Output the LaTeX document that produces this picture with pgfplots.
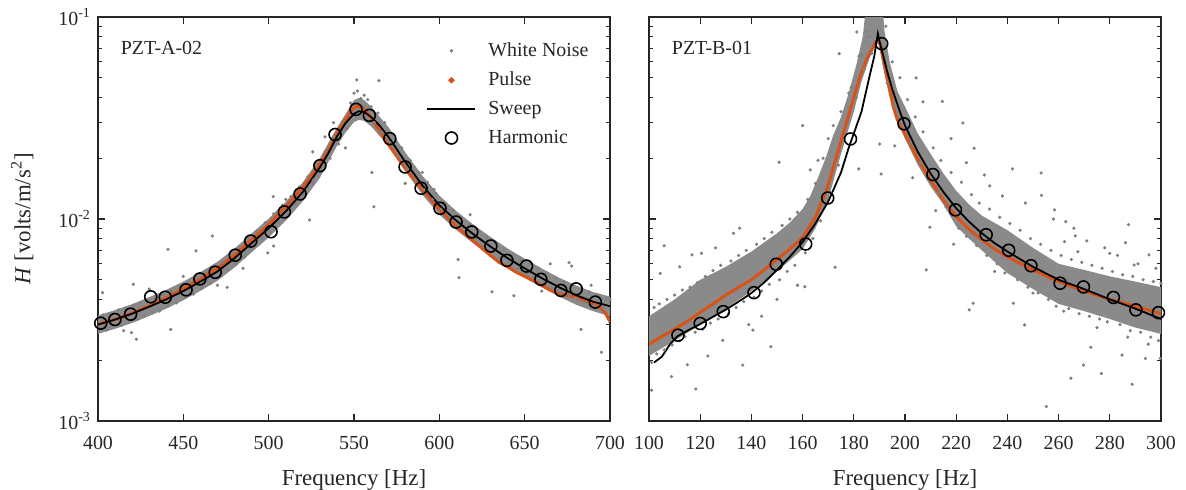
\documentclass[border=0pt]{standalone}
\usepackage{fontspec}
\setmainfont{Liberation Serif}
\usepackage{pgfplots}
\pgfplotsset{compat=1.18}
\definecolor{noise}{RGB}{128,128,128}
\definecolor{noisefill}{RGB}{138,138,138}
\definecolor{pulse}{RGB}{217,83,25}
\definecolor{axc}{RGB}{38,38,38}
\begin{document}
\begin{tikzpicture}
\useasboundingbox (0,0) rectangle (593bp,245bp);
% ================= LEFT PANEL =================
\begin{axis}[at={(49bp,34.5bp)}, anchor=south west,
  scale only axis, width=256bp, height=202bp,
  ymode=log, ymin=1e-3, ymax=1e-1,
  axis line style={axc, line width=0.8bp},
  major tick length=3.5bp, minor tick length=2bp,
  tick align=inside, tick style={axc, line width=0.6bp},
  tick label style={font=\fontsize{10}{12}\selectfont, text=black!85},
  xticklabel style={yshift=-4bp},
  xlabel style={font=\fontsize{11.5}{14}\selectfont, text=black!85, yshift=-3bp},
  /pgf/number format/assume math mode=true,
  ytick={0.001,0.01,0.1},
  xlabel={Frequency [Hz]},
  xmin=400, xmax=700, xtick={400,450,...,700},
  yticklabels={{10\textsuperscript{-3}},{10\textsuperscript{-2}},{10\textsuperscript{-1}}},
  ylabel={\textit{H} [volts/m/s\textsuperscript{2}]},
  ylabel style={font=\fontsize{11.5}{14}\selectfont, text=black!85, at={(axis description cs:-0.148,0.5)}, anchor=center},
  legend style={at={(0.641,0.948)}, anchor=north west, draw=none, fill=none,
    inner sep=0pt, row sep=2.3bp, font=\fontsize{10}{12}\selectfont, text=black!85,
    /tikz/every odd column/.append style={column sep=4bp}},
  legend cell align=left]
% dense band
\addplot[fill=noisefill, draw=none, forget plot] coordinates {
(400,0.00333)(410,0.00354)(420,0.00379)(430,0.00410)(440,0.00446)(450,0.0049)(460,0.00546)(470,0.00614)(480,0.00714)(490,0.00848)(500,0.01004)(510,0.01216)(520,0.01518)(530,0.0200)(540,0.0283)(545,0.0330)(550,0.0388)(553,0.0398)(556,0.0388)(560,0.0360)(570,0.0286)(580,0.0214)(590,0.0164)(600,0.01305)(610,0.01093)(620,0.00937)(630,0.00815)(640,0.00714)(650,0.00636)(660,0.00569)(670,0.00513)(680,0.00469)(690,0.00435)(700,0.00413)
(700,0.0033)(690,0.00350)(680,0.00377)(670,0.00414)(660,0.00459)(650,0.00513)(640,0.00576)(630,0.00657)(620,0.00756)(610,0.00882)(600,0.01053)(590,0.0132)(580,0.0173)(570,0.0230)(560,0.0288)(556,0.0306)(553,0.0310)(550,0.0302)(545,0.0268)(540,0.0230)(530,0.0160)(520,0.01224)(510,0.00981)(500,0.0081)(490,0.00684)(480,0.00576)(470,0.00495)(460,0.00441)(450,0.00396)(440,0.0036)(430,0.00331)(420,0.00306)(410,0.00286)(400,0.0027)
};
% white noise scatter
\addplot[only marks, mark=*, mark size=0.6bp, color=noise,
  legend image code/.code={\fill[noise] (12bp,0bp) circle (0.65bp);}] coordinates {
(401,0.00290)(403,0.00335)(405,0.00282)(407,0.00340)(409,0.00300)(412,0.00355)(414,0.00298)(416,0.00362)(418,0.00310)(421,0.00372)
(423,0.00318)(425,0.00385)(427,0.00330)(429,0.00395)(432,0.00345)(434,0.00410)(436,0.00350)(438,0.00425)(441,0.00370)(443,0.00440)
(446,0.00385)(448,0.00465)(451,0.00410)(453,0.00485)(456,0.00425)(458,0.00510)(461,0.00455)(463,0.00545)(466,0.00480)(468,0.00585)
(471,0.00520)(473,0.00610)(476,0.00560)(478,0.00670)(481,0.00600)(483,0.00730)(486,0.00650)(488,0.00800)(491,0.00720)(493,0.00870)
(496,0.00800)(498,0.00960)(501,0.00860)(503,0.01060)(506,0.00960)(508,0.01170)(511,0.01050)(513,0.01290)(516,0.01180)(518,0.01440)
(521,0.01310)(523,0.01620)(526,0.01500)(528,0.01880)(531,0.01720)(533,0.02150)(536,0.02000)(538,0.02550)(541,0.02350)(543,0.03000)
(546,0.02800)(548,0.03750)(550,0.04200)(552,0.04300)(554,0.03950)(556,0.04100)(558,0.03900)(560,0.03600)(562,0.03000)(564,0.03350)
(566,0.02700)(568,0.03000)(571,0.02400)(573,0.02600)(576,0.02050)(578,0.02250)(581,0.01780)(583,0.01950)(586,0.01560)(588,0.01700)
(591,0.01400)(593,0.01520)(596,0.01250)(598,0.01340)(601,0.01120)(603,0.01210)(606,0.01020)(608,0.01100)(611,0.00930)(613,0.01010)
(616,0.00860)(618,0.00940)(621,0.00800)(623,0.00870)(626,0.00740)(628,0.00810)(631,0.00690)(633,0.00760)(636,0.00650)(638,0.00710)
(641,0.00610)(643,0.00670)(646,0.00570)(648,0.00630)(651,0.00540)(653,0.00600)(656,0.00510)(658,0.00570)(661,0.00480)(663,0.00540)
(666,0.00455)(668,0.00510)(671,0.00435)(673,0.00490)(676,0.00415)(678,0.00470)(681,0.00400)(683,0.00450)(686,0.00385)(688,0.00435)
(691,0.00372)(693,0.00420)(696,0.00362)(698,0.00405)
(467,0.00824)(551.6,0.0488)(564.6,0.0484)(525.8,0.0215)(526,0.0156)(561.7,0.0115)(560.5,0.0170)(502.7,0.0129)(524,0.0099)
(441,0.00708)(442.6,0.00284)(422.5,0.00254)(419.6,0.00274)(420.7,0.00475)(402.7,0.00432)(457.4,0.00695)(475.7,0.00459)
(499.5,0.0068)(502.9,0.00735)(611,0.0063)(611.5,0.00513)(630.9,0.00436)(643.7,0.00417)(676,0.00608)(677.5,0.00585)
(683,0.00284)(695,0.00219)(538,0.0300)(545,0.0225)(533,0.0255)(580,0.0150)(590,0.0170)(618,0.0105)(597,0.0140)(665,0.0060)
(450,0.0052)(430,0.0045)(415,0.0028)(485,0.0057)(510,0.0125)(470,0.0047)(660,0.0044)(689,0.0047)(700,0.0040)
};
\addlegendentry{White Noise}
% pulse
\addplot[pulse, line width=1.5bp,
  legend image code/.code={\fill[pulse] (12bp,0bp) circle (0.6bp);}] coordinates {
(400,0.00302)(410,0.00318)(420,0.00342)(430,0.00372)(440,0.00408)(450,0.00452)(460,0.00505)(470,0.00570)(480,0.00665)(490,0.00790)
(500,0.00940)(510,0.01150)(520,0.01440)(530,0.01880)(535,0.02200)(540,0.02650)(545,0.03100)(549,0.03500)(552,0.03620)(555,0.03550)
(558,0.03350)(562,0.03000)(566,0.02650)(570,0.02350)(575,0.02050)(580,0.01780)(585,0.01580)(590,0.01400)(595,0.01250)(600,0.01120)
(605,0.01010)(610,0.00920)(615,0.00845)(620,0.00780)(625,0.00715)(630,0.00660)(635,0.00610)(640,0.00580)(645,0.00545)(650,0.00520)
(655,0.00495)(660,0.00470)(665,0.00445)(670,0.00428)(675,0.00418)(678,0.00412)(680,0.00422)(683,0.00402)(686,0.00392)(690,0.00382)
(694,0.00368)(697,0.00345)(700,0.00310)
};
\addlegendentry{Pulse}
% sweep
\addplot[black, line width=0.9bp,
  legend image code/.code={\draw[black, line width=0.9bp] (0bp,0bp) -- (24bp,0bp);}] coordinates {
(400,0.00300)(410,0.00318)(420,0.00340)(430,0.00368)(440,0.00400)(450,0.00440)(460,0.00490)(470,0.00550)(480,0.00640)(490,0.00760)
(500,0.00900)(510,0.01090)(520,0.01360)(530,0.01800)(535,0.02120)(540,0.02560)(545,0.02980)(550,0.03320)(553,0.03420)(556,0.03380)
(560,0.03200)(565,0.02900)(570,0.02560)(575,0.02220)(580,0.01920)(590,0.01470)(600,0.01170)(610,0.00980)(620,0.00840)(630,0.00730)
(640,0.00640)(650,0.00570)(660,0.00510)(670,0.00460)(680,0.00420)(690,0.00390)(700,0.00370)
};
\addlegendentry{Sweep}
% harmonic
\addplot[only marks, mark=o, mark size=3bp, black, mark options={line width=0.8bp},
  legend image code/.code={\draw[black, line width=0.8bp] (12bp,0bp) circle (3bp);}] coordinates {
(401.6,0.00305)(409.9,0.00318)(419.1,0.00338)(430.9,0.00412)(439.4,0.00410)(451.6,0.00446)(459.7,0.00505)(468.7,0.00545)
(480.4,0.00662)(489.5,0.00778)(501.4,0.00865)(509.2,0.01084)(518.4,0.0133)(530,0.01837)(538.9,0.0262)(551.2,0.0349)
(559,0.0326)(571,0.0250)(579.9,0.0181)(589.3,0.0142)(600.4,0.0113)(609.8,0.00966)(619,0.00863)(630.2,0.00735)
(639.6,0.00624)(651.1,0.00585)(659.5,0.00503)(671.2,0.00443)(680.2,0.00451)(691.4,0.00388)
};
\addlegendentry{Harmonic}
\node[anchor=west, font=\fontsize{10}{12}\selectfont, text=black!85] at (axis description cs:0.031,0.923) {PZT-A-02};
\end{axis}
% ================= RIGHT PANEL =================
\begin{axis}[at={(324.5bp,34.5bp)}, anchor=south west,
  scale only axis, width=256bp, height=202bp,
  ymode=log, ymin=1e-3, ymax=1e-1,
  axis line style={axc, line width=0.8bp},
  major tick length=3.5bp, minor tick length=2bp,
  tick align=inside, tick style={axc, line width=0.6bp},
  tick label style={font=\fontsize{10}{12}\selectfont, text=black!85},
  xticklabel style={yshift=-4bp},
  xlabel style={font=\fontsize{11.5}{14}\selectfont, text=black!85, yshift=-3bp},
  /pgf/number format/assume math mode=true,
  ytick={0.001,0.01,0.1},
  xlabel={Frequency [Hz]},
  xmin=100, xmax=300, xtick={100,120,...,300}, yticklabels={}]
\addplot[fill=noisefill, draw=none] coordinates {
(100,0.0033)(110,0.0040)(120,0.0050)(130,0.0058)(140,0.0069)(150,0.0085)(155,0.0096)(160,0.0112)(163,0.0130)(166,0.0160)(169,0.0200)(172,0.0260)(175,0.0320)(178,0.0420)(181,0.0580)(183.5,0.0800)(185,0.12)(191,0.12)(192,0.085)(194,0.060)(197,0.043)(200,0.036)(205,0.0265)(210,0.0210)(215,0.0168)(220,0.0138)(225,0.0118)(230,0.0104)(240,0.0088)(250,0.0072)(260,0.0060)(270,0.0056)(280,0.0052)(290,0.0049)(300,0.0046)
(300,0.0027)(290,0.0029)(280,0.0032)(270,0.0035)(260,0.0038)(250,0.0045)(240,0.0054)(230,0.0070)(225,0.0080)(220,0.0092)(215,0.0118)(210,0.0145)(205,0.0185)(200,0.0250)(197,0.0310)(194,0.0400)(192,0.0520)(190.5,0.0650)(189.5,0.0750)(188,0.0700)(186,0.0620)(183,0.0480)(180,0.0340)(175,0.0210)(170,0.0125)(165,0.0090)(160,0.0071)(150,0.0055)(140,0.0044)(130,0.0036)(120,0.0030)(110,0.00250)(100,0.0021)
};
\addplot[only marks, mark=*, mark size=0.6bp, color=noise] coordinates {
(101,0.00195)(102,0.00365)(103,0.00215)(104,0.00380)(106,0.00225)(107,0.00400)(109,0.00238)(110,0.00420)(112,0.00250)(113,0.00445)
(114,0.00262)(116,0.00460)(118,0.00275)(119,0.00485)(121,0.00285)(122,0.00520)(124,0.00305)(125,0.00555)(127,0.00320)(128,0.00590)
(131,0.00340)(132,0.00620)(134,0.00365)(135,0.00660)(137,0.00390)(138,0.00700)(141,0.00410)(142,0.00750)(144,0.00440)(145,0.00800)
(147,0.00475)(148,0.00860)(151,0.00500)(152,0.00930)(154,0.00550)(155,0.01000)(157,0.00590)(158,0.01080)
(161,0.0068)(164,0.0080)(167,0.0098)(171,0.0135)(174,0.0185)(177,0.0265)(181,0.040)(184,0.055)(187,0.066)
(162,0.0125)(165,0.0150)(168,0.0200)(172,0.0290)(175,0.0340)(178,0.0420)(182,0.0640)(185,0.085)
(192.5,0.0900)(193,0.0470)(195,0.0600)(196,0.0360)(198,0.0500)
(199,0.0290)(201,0.0390)(202,0.0235)(204,0.0320)(206,0.0190)(207,0.0270)(209,0.0158)(211,0.0225)(213,0.0135)(214,0.0195)
(216,0.0115)(218,0.0170)(221,0.0090)(222,0.0152)(224,0.0082)(226,0.0132)(228,0.0074)(229,0.0120)(232,0.0066)(233,0.0112)
(236,0.0060)(237,0.0102)(239,0.0054)(241,0.0095)(244,0.0050)(245,0.0088)(248,0.0046)(249,0.0080)(252,0.0043)(253,0.0075)
(256,0.0040)(257,0.0070)(259,0.0037)(261,0.0066)(264,0.0036)(265,0.0063)(268,0.0034)(269,0.0061)(272,0.0033)(273,0.0059)
(276,0.0032)(277,0.0057)(279,0.0031)(281,0.0055)(284,0.0030)(285,0.0053)(288,0.0028)(289,0.0052)(292,0.00275)(293,0.0050)
(296,0.00260)(297,0.0049)(299,0.00250)(300,0.0048)
(181.2,0.0843)(174.3,0.0658)(160,0.029)(150.8,0.0191)(181.9,0.0177)(190.7,0.0167)(190.1,0.0235)(204.3,0.0499)(214.6,0.0382)
(222.6,0.0299)(227,0.0224)(242,0.0177)(253.2,0.0169)(253.3,0.0131)(258.4,0.0111)(262.8,0.0097)(266.5,0.00826)(287.3,0.00937)
(233.1,0.0146)(209.7,0.0091)(135.4,0.009)(105.9,0.00738)
(104.4,0.00538)(116.8,0.00664)(120.5,0.00676)(108.8,0.00166)(118.3,0.00144)(101,0.00142)(136.6,0.00189)(140.6,0.00282)
(147.6,0.00233)(128.8,0.00251)(172.7,0.00577)(160.9,0.00462)(208.3,0.0056)(226.6,0.00383)(225.1,0.00355)(242.3,0.00383)
(246.7,0.00299)(255.2,0.00118)(264.8,0.00163)(269.7,0.00189)(272.6,0.00232)(276.7,0.00172)(288.7,0.00152)(284.8,0.00212)
(293.9,0.00204)(299.7,0.00204)(295.3,0.00664)(289.5,0.00592)(280,0.00676)(267.5,0.00689)(262.3,0.00773)(286.1,0.00764)
(112,0.0058)(126,0.0072)(133,0.0085)(115,0.0019)(123,0.0021)(139,0.0030)(144,0.0033)(150,0.0040)(163,0.0175)(158,0.0047)
(170,0.0250)(166,0.0195)(179,0.0450)(183,0.0650)(186,0.0800)(196,0.0230)(203,0.0160)(207,0.0380)(212,0.0110)(218,0.0250)
(219,0.0075)(224,0.0190)(231,0.0165)(235,0.0055)(238,0.0130)(247,0.0120)(250,0.0043)(258,0.0100)(262,0.0035)(266,0.0090)
(271,0.0078)(275,0.0029)(278,0.0072)(283,0.0066)(287,0.0026)(291,0.0060)(295,0.0024)(298,0.0057)
};
\addplot[pulse, line width=1.5bp] coordinates {
(100,0.00240)(105,0.00262)(110,0.00285)(115,0.00312)(120,0.00345)(125,0.00380)(130,0.00420)(135,0.00460)(140,0.00500)(145,0.00560)
(150,0.00630)(155,0.00710)(160,0.00810)(165,0.0102)(169.4,0.0139)(172,0.0180)(175.3,0.0251)(179,0.0360)(182.4,0.0506)(185,0.0620)
(188.3,0.0740)(189.6,0.0776)(190.5,0.0720)(192,0.0580)(194,0.0440)(195.4,0.0360)(197,0.0310)(200,0.0262)(205,0.0198)(210,0.0155)
(215,0.0124)(220,0.0103)(225,0.0089)(230,0.0079)(235,0.0071)(240,0.0065)(250,0.0056)(260,0.0049)(270,0.0044)(280,0.0040)
(290,0.0037)(300,0.0034)
};
\addplot[black, line width=0.9bp] coordinates {
(102,0.00195)(105,0.00208)(108,0.00238)(111,0.00262)(115,0.00280)(120,0.00302)(125,0.00328)(130,0.00356)(135,0.00390)(140,0.00430)
(145,0.00485)(150,0.00560)(155,0.00650)(160,0.00770)(165,0.00950)(170,0.0122)(175,0.0170)(178,0.0225)(180,0.0265)(183,0.0340)
(186,0.0500)(188,0.0640)(189.4,0.0827)(190,0.0760)(191,0.0680)(193,0.0540)(195,0.0440)(198,0.0340)(200,0.0290)(205,0.0215)
(210,0.0168)(215,0.0136)(220,0.0113)(225,0.0097)(230,0.0085)(235,0.0076)(240,0.0069)(250,0.0058)(260,0.0050)(270,0.0045)
(280,0.0040)(290,0.0036)(300,0.0032)
};
\addplot[only marks, mark=o, mark size=3bp, black, mark options={line width=0.8bp}] coordinates {
(111.3,0.00266)(120,0.00304)(129,0.00348)(141,0.00432)(149.7,0.00597)(161.2,0.00752)(169.8,0.0127)(178.7,0.0249)(190.9,0.0738)
(199.6,0.0296)(210.9,0.0166)(219.7,0.0111)(231.7,0.00836)(240.5,0.00700)(249.2,0.00587)(260.6,0.00481)(269.7,0.00461)
(281.4,0.00409)(290.2,0.00355)(299,0.00344)
};
\node[anchor=west, font=\fontsize{10}{12}\selectfont, text=black!85] at (axis description cs:0.031,0.923) {PZT-B-01};
\end{axis}
\end{tikzpicture}
\end{document}
